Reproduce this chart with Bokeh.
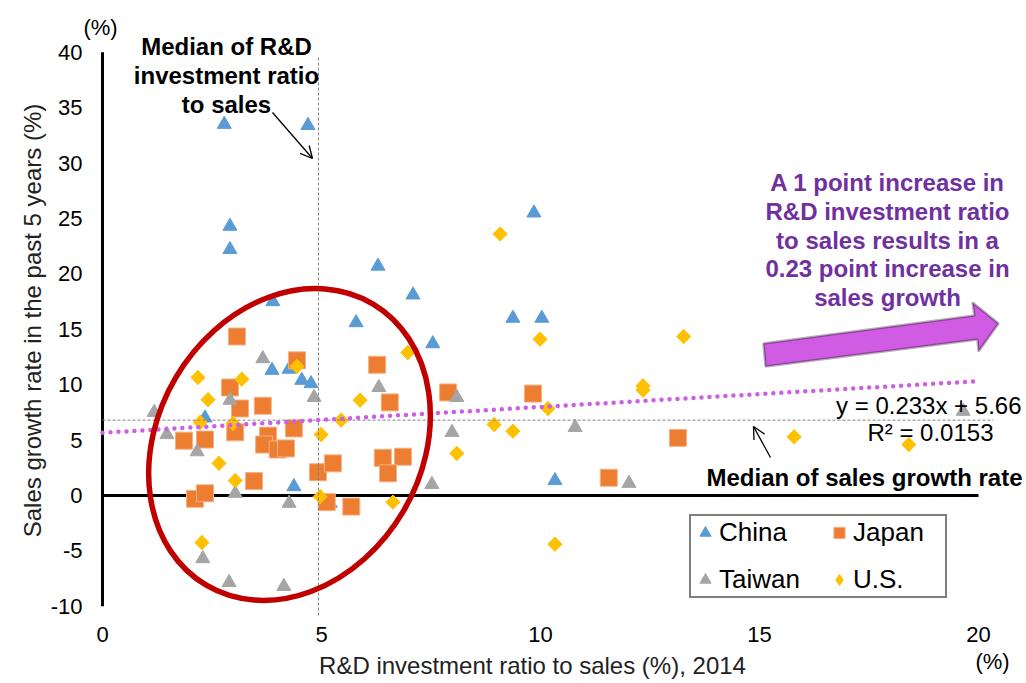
import math
from bokeh.plotting import figure
from bokeh.models import (Range1d, FixedTicker, Label, Arrow, OpenHead,
                          PolyAnnotation, Legend, LegendItem)
from bokeh.embed import file_html
from bokeh.resources import INLINE

# ---------------- data ----------------
china_x = [2.78, 4.69, 2.91, 2.91, 3.89, 6.29, 7.09, 9.85, 5.79, 7.54, 9.37, 10.03,
           3.87, 4.26, 4.55, 4.76, 2.34, 4.37, 10.33, 5.2]
china_y = [33.5, 33.4, 24.3, 22.2, 17.5, 20.7, 18.1, 25.5, 15.6, 13.7, 16.0, 16.0,
           11.3, 11.4, 10.4, 10.1, 7.0, 0.8, 1.35, -0.7]

japan_x = [3.07, 4.44, 2.91, 3.66, 3.14, 4.37, 3.03, 1.86, 2.34, 3.78, 3.69, 4.0,
           4.19, 3.46, 2.11, 2.34, 5.12, 4.92, 5.26, 6.27, 6.56, 6.4, 6.86, 6.52,
           7.89, 9.83, 11.56, 13.14, 5.68]
japan_y = [14.35, 12.2, 9.75, 8.1, 7.85, 6.05, 5.7, 4.95, 5.05, 5.4, 4.6, 4.15,
           4.25, 1.3, -0.3, 0.2, -0.6, 2.1, 2.9, 11.8, 8.4, 3.4, 3.5, 2.0,
           9.3, 9.2, 1.6, 5.2, -1.0]

taiwan_x = [3.66, 2.91, 4.83, 1.18, 1.47, 2.16, 3.03, 4.26, 2.29, 2.89, 4.14, 6.31,
            8.09, 7.98, 7.52, 10.79, 12.02, 19.65]
taiwan_y = [12.35, 8.6, 8.85, 7.5, 5.5, 3.95, 0.2, -0.7, -5.7, -7.85, -8.2, 9.75,
            8.85, 5.7, 1.0, 6.15, 1.1, 7.6]

us_x = [2.18, 3.18, 2.41, 4.44, 2.23, 2.98, 4.99, 5.45, 2.66, 3.03, 4.97, 2.27,
        6.63, 6.97, 5.88, 8.94, 9.37, 8.09, 9.99, 10.17, 12.34, 12.34, 9.08, 13.27,
        10.33, 15.79, 18.41]
us_y = [10.65, 10.5, 8.65, 11.65, 6.6, 6.5, 5.5, 6.8, 2.9, 1.35, -0.1, -4.25,
        -0.6, 12.9, 8.6, 6.4, 5.8, 3.8, 14.1, 7.85, 9.9, 9.5, 23.6, 14.35,
        -4.4, 5.3, 4.6]

series_names = ["China", "Japan", "Taiwan", "U.S."]
x_ticks = [0, 5, 10, 15, 20]
y_ticks = [-10, -5, 0, 5, 10, 15, 20, 25, 30, 35, 40]

trend_slope = 0.233
trend_intercept = 5.66
trend_x = [0, 20]
median_rd = 4.93
median_growth = 6.8

# ---------------- geometry helpers (canvas pixels -> data) ----------------
X0, SX = 102.0, 43.8
Y0, SY = 495.0, 11.08


def dx(px):
    return (px - X0) / SX


def dy(py):
    return (Y0 - py) / SY


W, H = 1024, 680
FONT = "Liberation Sans"

p = figure(width=W, height=H, output_backend="svg", toolbar_location=None,
           x_range=Range1d(dx(0), dx(W)), y_range=Range1d(dy(H), dy(0)),
           min_border=0, min_border_left=0, min_border_right=0,
           min_border_top=0, min_border_bottom=0)
p.outline_line_color = None
p.grid.visible = False
p.background_fill_color = "white"
p.border_fill_color = "white"

# axes (fixed inside the canvas so nothing takes border space)
for ax in (p.xaxis[0], p.yaxis[0]):
    ax.axis_line_color = None
    ax.major_tick_line_color = None
    ax.minor_tick_line_color = None
    ax.major_tick_out = 0
    ax.major_tick_in = 0
    ax.major_label_text_font = FONT
    ax.major_label_text_font_size = "22px"
    ax.major_label_text_color = "black"

p.xaxis.ticker = FixedTicker(ticks=x_ticks)
p.xaxis.fixed_location = dy(621)
p.xaxis.major_label_standoff = 5

p.yaxis.ticker = FixedTicker(ticks=y_ticks)
p.yaxis.fixed_location = 0
p.yaxis.major_label_overrides = {v: str(v) for v in y_ticks}
p.yaxis.major_label_standoff = 20

# axis lines at zero
p.segment(x0=[0], y0=[y_ticks[0]], x1=[0], y1=[y_ticks[-1]], line_color="black", line_width=3)
p.segment(x0=[x_ticks[0]], y0=[0], x1=[x_ticks[-1]], y1=[0], line_color="black", line_width=3)

# series
r_cn = p.scatter(china_x, china_y, marker="triangle", size=14,
                 fill_color="#5B9BD5", line_color="#5B9BD5")
r_jp = p.scatter(japan_x, japan_y, marker="square", size=17,
                 fill_color="#ED7D31", line_color="#F4B183", line_width=1)
r_tw = p.scatter(taiwan_x, taiwan_y, marker="triangle", size=14,
                 fill_color="#A5A5A5", line_color="#A5A5A5")
# U.S.: diamond key glyph (used by the legend) lies fully under the square-diamonds
r_us_key = p.scatter(us_x, us_y, marker="diamond", size=14,
                     fill_color="#FFC000", line_color="#FFC000")
r_us = p.scatter(us_x, us_y, marker="square", angle=math.pi / 4, size=10,
                 fill_color="#FFC000", line_color="#FFC000")

# median lines
p.segment(x0=[median_rd], y0=[dy(57)], x1=[median_rd], y1=[dy(617)],
          line_color="#808080", line_width=1, line_dash="3 2")
p.segment(x0=[0], y0=[median_growth], x1=[dx(993)], y1=[median_growth],
          line_color="#808080", line_width=1, line_dash="3 2")

# trend line
trend_y = [trend_slope * v + trend_intercept for v in trend_x]
p.line(trend_x, trend_y, line_color="#CC5FE6", line_width=4.5,
       line_dash="0 8", line_cap="round")

# ellipse
p.ellipse(x=[dx(289)], y=[dy(444)], width=327, height=264, angle=59.4,
          angle_units="deg", width_units="screen", height_units="screen",
          fill_color=None, line_color="#C00000", line_width=5.5)

# big purple arrow
arrow_px = [(763, 343), (974, 315), (972, 302), (998, 323), (978, 351), (977, 339), (765, 366)]
p.add_layout(PolyAnnotation(xs=[dx(a) for a, b in arrow_px], ys=[dy(b) for a, b in arrow_px],
                            fill_color="#D05CE3", fill_alpha=1.0,
                            line_color="black", line_width=2.5))


def lab(px, py, text, size="24px", bold=False, color="black", align="center", angle=0.0):
    p.add_layout(Label(x=dx(px), y=dy(py), text=text, text_align=align,
                       text_baseline="middle", text_font=FONT,
                       text_font_size=size, angle=angle,
                       text_font_style="bold" if bold else "normal",
                       text_color=color))


# axis titles
lab(532, 665, "R&D investment ratio to sales (%), 2014", color="#222222")
lab(32, 320, "Sales growth rate in the past 5 years (%)", color="#222222", angle=math.pi / 2)
lab(100, 27, "(%)", size="22px")
lab(992, 661, "(%)", size="22px")

for i, t in enumerate(["Median of R&D", "investment ratio", "to sales"]):
    lab(226, 46 + 29 * i, t, bold=True)

for i, t in enumerate(["A 1 point increase in", "R&D investment ratio",
                       "to sales results in a", "0.23 point increase in",
                       "sales growth"]):
    lab(887, 182 + 28.8 * i, t, bold=True, color="#7030A0")

lab(864, 477, "Median of sales growth rate", bold=True)
lab(1021, 405, "y = 0.233x + 5.66", align="right")
lab(993, 432, "R\u00b2 = 0.0153", align="right")

# small pointer arrows
p.add_layout(Arrow(end=OpenHead(size=12, line_width=1.3, line_color="black"),
                   x_start=dx(272), y_start=dy(112), x_end=dx(312), y_end=dy(158),
                   line_width=1.3, line_color="black"))
p.add_layout(Arrow(end=OpenHead(size=12, line_width=1.3, line_color="black"),
                   x_start=dx(770), y_start=dy(457), x_end=dx(753), y_end=dy(426),
                   line_width=1.3, line_color="black"))

# legend (column-major fill: China, Taiwan | Japan, U.S.)
legend = Legend(items=[LegendItem(label=series_names[0], renderers=[r_cn]),
                       LegendItem(label=series_names[2], renderers=[r_tw]),
                       LegendItem(label=series_names[1], renderers=[r_jp]),
                       LegendItem(label=series_names[3], renderers=[r_us_key])],
                ncols=2, location=(689, H - 598),
                border_line_color="black", border_line_width=2,
                background_fill_color="white", background_fill_alpha=1.0,
                padding=0, margin=0, spacing=14, glyph_width=28, glyph_height=33,
                label_width=92, label_standoff=0, label_text_font=FONT,
                label_text_font_size="26px", label_text_color="black")
p.add_layout(legend)

open("out.html", "w").write(file_html(p, INLINE))
